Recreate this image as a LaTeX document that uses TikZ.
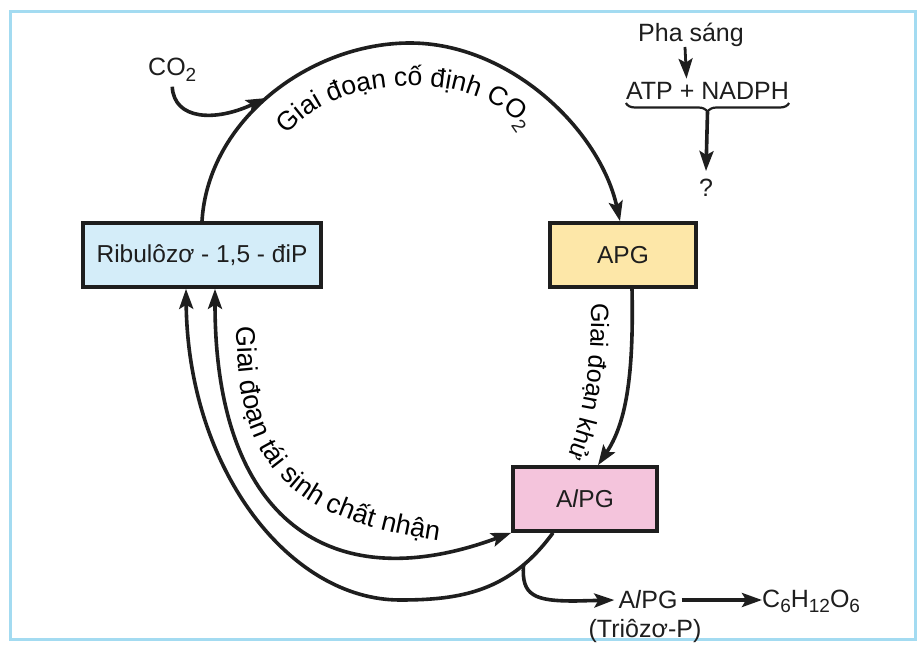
\documentclass[tikz,border=0pt]{standalone}
\usepackage{fontspec}
\setmainfont{Liberation Sans}
\usetikzlibrary{arrows.meta,decorations.text,decorations.pathreplacing}
\definecolor{framec}{HTML}{A3DBF1}
\definecolor{ribfill}{HTML}{D4EDF9}
\definecolor{apgfill}{HTML}{FDE7A8}
\definecolor{alpgfill}{HTML}{F4C4DC}
\definecolor{ink}{HTML}{1E1E1E}
\newcommand\fsz[1]{\fontsize{#1}{#1}\selectfont}
\newcommand\lowsub[1]{\raisebox{-5.5pt}{\fsz{19}#1}}
\begin{document}
\begin{tikzpicture}[x=1pt,y=-1pt,
  box/.style={draw=ink, line width=3.6pt, minimum width=#1, minimum height=64pt, inner sep=0pt, font=\fsz{24.5}, text=ink},
  conn/.style={draw=ink, line width=3.6pt},
  tip/.tip={Stealth[length=20pt,width=14pt,inset=4pt]},
  arr/.style={conn, -tip},
  lbl/.style={text=ink, font=\fsz{25}, inner sep=0pt}]
\useasboundingbox (0,0) rectangle (924,655);
\fill[white] (0,0) rectangle (924,655);
\draw[framec, line width=3pt] (10,12) rectangle (915,639);

% boxes
\node[box=238pt, fill=ribfill] (rib) at (202,255) {Ribulôzơ - 1,5 - điP};
\node[box=146pt, fill=apgfill] (apg) at (623,255) {APG};
\node[box=144pt, fill=alpgfill] (alpg) at (585,499) {A\textit{l}PG};

% labels
\node[lbl, anchor=base west] (co2) at (148,76) {CO\lowsub{2}};
\node[lbl] (pha) at (691,35) {Pha sáng};
\node[lbl, anchor=base] (atp) at (707.5,100) {ATP + NADPH};
\node[lbl] (q) at (706,188) {?};
\node[lbl, inner sep=4pt] (alpg2) at (648,600) {A\textit{l}PG};
\node[lbl, anchor=base west] (c6) at (762,607) {C\lowsub{6}H\lowsub{12}O\lowsub{6}};
\node[lbl] (trio) at (645,631) {(Triôzơ-P)};

% top arc (CO2 fixation)
\draw[arr] (rib.north) .. controls (208,120) and (310,43) .. (410,43)
  .. controls (510,43) and (600,130) .. ([xshift=-3pt]apg.north);
\path (rib.north) .. controls (208,120) and (310,43) .. (410,43) coordinate[pos=0.48] (co2in);
\draw[arr] ([yshift=-5pt]co2.south) .. controls (174,120) and (215,122) .. (co2in);

% reduction
\draw[arr] ([xshift=9pt]apg.south) .. controls (634,380) and (625,425) .. ([xshift=13pt]alpg.north);

% regeneration (inner, both ends)
\draw[conn, tip-tip] ([xshift=13pt]rib.south) .. controls (215,520) and (330,600) .. (alpg.south west);

% outer return
\draw[arr] ([xshift=-32pt]alpg.south) .. controls (510,592) and (460,600) .. (400,600) coordinate[pos=0.22] (br)
  .. controls (290,600) and (188,470) .. ([xshift=-16pt]rib.south);

% branch to AlPG (Trioza-P)
\draw[arr] (br) .. controls (521,596) and (535,601) .. (575,601) -- (alpg2.west);
\draw[arr] (alpg2.east) -- (alpg2.east -| c6.west);

% light phase
\draw[conn, line width=2.8pt, -tip] ([xshift=-6pt]pha.south) -- ([xshift=-21pt,yshift=4pt]atp.north);
\draw[ink, line width=2.2pt, decorate, decoration={brace, mirror, amplitude=9pt}]
  ([yshift=-3pt]atp.base west) -- ([yshift=-3pt]atp.base east);
\draw[arr] ([yshift=-12pt]atp.base) -- ([yshift=8pt]q.north);

% curved labels
\begin{scope}[color=ink]
\path[decorate, decoration={text along path, text align=left,
  text={|\fsz{26.5}|Giai đoạn cố định CO}}]
  (287,135) .. controls (320,99) and (360,87) .. (410,86) .. controls (460,85) and (505,100) .. (540,145);
\node[text=ink, font=\fsz{19}, rotate=-55, inner sep=0pt] (sub2) at (519,126) {2};
\path[decorate, decoration={text along path, text align=left,
  text={|\fsz{25}|Giai đoạn khử}}]
  (591,303) .. controls (592,380) and (582,430) .. (558,480);
\path[decorate, decoration={text along path, text align=left,
  text={|\fsz{27}|Giai đoạn tái sinh chất nhận}}]
  (237,326) .. controls (236,470) and (290,525) .. (470,545);
\end{scope}
\end{tikzpicture}
\end{document}
